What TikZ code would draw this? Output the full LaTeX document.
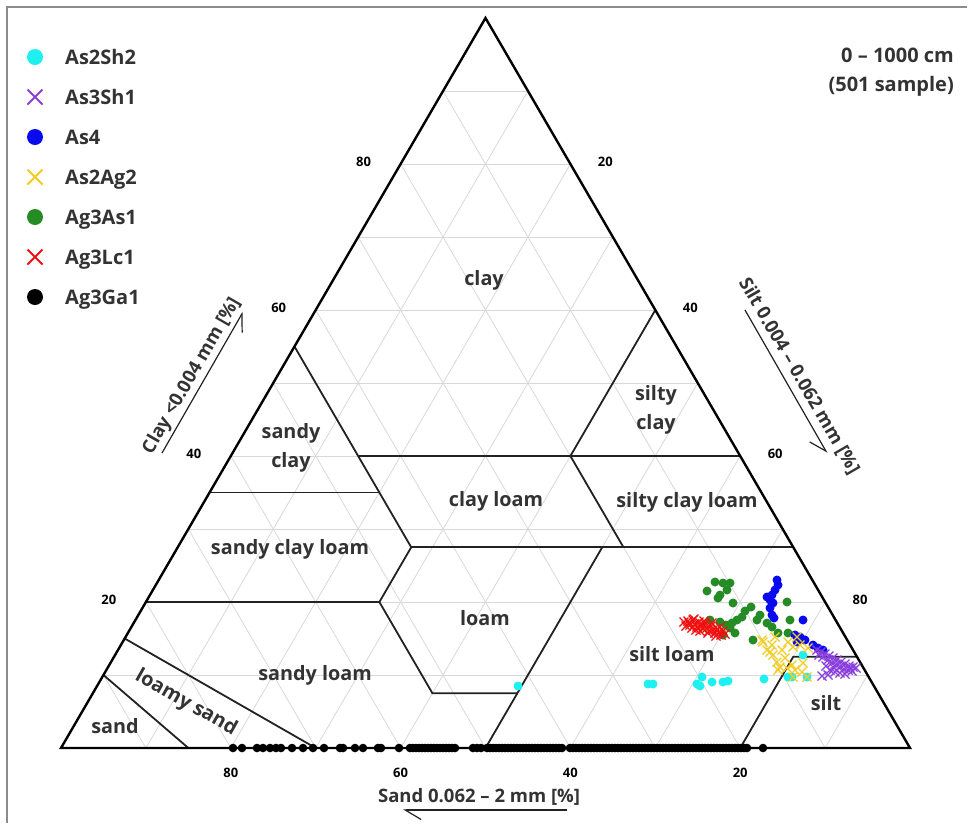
\documentclass[tikz,border=0pt]{standalone}
\usepackage{fontspec}
\setmainfont{Open Sans}
\usepackage{xcolor}
\usepackage{tikz}
\usetikzlibrary{arrows.meta}
\definecolor{ink}{HTML}{333333}
\definecolor{edge}{HTML}{222222}
\definecolor{gridgray}{HTML}{D8D8D8}
\definecolor{framegray}{HTML}{8C8C8C}
\definecolor{cyanpt}{HTML}{1EF0F0}
\definecolor{purplept}{HTML}{8A3FDC}
\definecolor{bluept}{HTML}{0A0AEE}
\definecolor{goldpt}{HTML}{F2CC1E}
\definecolor{greenpt}{HTML}{258B25}
\definecolor{redpt}{HTML}{F01010}
\tikzset{
  region/.style={font=\fontsize{19.8}{29}\selectfont\bfseries, text=ink, align=center, inner sep=0pt},
  tick/.style={font=\fontsize{13}{15}\selectfont\bfseries, text=black, inner sep=0pt},
  axistitle/.style={font=\fontsize{18.5}{29}\selectfont\bfseries, text=ink, inner sep=0pt},
  depthtext/.style={font=\fontsize{20}{29}\selectfont\bfseries, text=ink, inner sep=0pt},
  legendtext/.style={font=\fontsize{20}{23}\selectfont\bfseries, text=ink, anchor=base west, inner sep=0pt},
  gridline/.style={draw=gridgray, line width=0.8pt},
  boundary/.style={draw=edge, line width=1.8pt, line join=miter},
  outline/.style={draw=black, line width=2.4pt, line join=miter},
  frame/.style={draw=framegray, line width=1.2pt},
  axisarrow/.style={draw=edge, line width=1.2pt},
  datacross/.style={line width=1.3pt},
  legendcross/.style={line width=1.8pt}
}
\newcommand{\xmark}[4]{\draw[#1] (#2,#3) +(-#4,-#4) -- +(#4,#4) +(-#4,#4) -- +(#4,-#4);}

\begin{document}
\begin{tikzpicture}[x=1pt, y=-1pt]
  \useasboundingbox (0,0) rectangle (974,823);
  \draw[frame] (967,7) -- (7,7) -- (7,823);

  % triangle: silt along x, clay along y (percent)
  \begin{scope}[shift={(61,748)}, x={(8.49pt,0pt)}, y={(4.245pt,7.3pt)}]
    \foreach \k in {10,20,...,90} {
      \draw[gridline] (0,\k) -- ({100-\k},\k);
      \draw[gridline] (\k,0) -- (\k,{100-\k});
      \draw[gridline] ({100-\k},0) -- (0,{100-\k});
    }
    \draw[boundary] (15,0) -- (0,10);
    \draw[boundary] (30,0) -- (0,15);
    \draw[boundary] (0,20) -- (27.5,20) -- (40,7.5) -- (50,7.5);
    \draw[boundary] (50,0) -- (50,27.5);
    \draw[boundary] (27.5,20) -- (27.5,27.5) -- (0,55);
    \draw[boundary] (0,35) -- (20,35);
    \draw[boundary] (27.5,27.5) -- (72.5,27.5);
    \draw[boundary] (15,40) -- (60,40);
    \draw[boundary] (40,40) -- (52.5,27.5);
    \draw[boundary] (40,40) -- (40,60);
    \draw[boundary] (80,0) -- (80,12.5) -- (87.5,12.5);
    \draw[outline] (0,0) -- (100,0) -- (0,100) -- cycle;
    \foreach \k in {20,40,60,80} {
      \node[tick, xshift=-37pt, yshift=2pt] (claytick\k) at (0,\k) {\k};
      \node[tick, xshift=35pt, yshift=2pt] (silttick\k) at (\k,{100-\k}) {\k};
      \node[tick, yshift=-25pt] (sandtick\k) at ({100-\k},0) {\k};
    }
  \end{scope}

  % texture classes
  \node[region] (clay) at (484,280) {clay};
  \node[region] (siltyclay) at (656,410) {silty\\clay};
  \node[region] (sandyclay) at (291,448) {sandy\\clay};
  \node[region] (clayloam) at (496,501) {clay loam};
  \node[region] (siltyclayloam) at (687,502) {silty clay loam};
  \node[region] (sandyclayloam) at (290,549) {sandy clay loam};
  \node[region] (loam) at (485,618) {loam};
  \node[region] (sandyloam) at (315,675) {sandy loam};
  \node[region] (siltloam) at (672,654) {silt loam};
  \node[region] (silt) at (826,703) {silt};
  \node[region, rotate=-29.4] (loamysand) at (186,703) {loamy sand};
  \node[region] (sand) at (115,726) {sand};

  % axis titles
  \node[axistitle] (sandtitle) at (479,797) {Sand 0.062 – 2 mm [\%]};
  \node[axistitle, rotate=60] (claytitle) at (192,376) {Clay <0.004 mm [\%]};
  \node[axistitle, rotate=-60] (silttitle) at (799,376) {Silt 0.004 – 0.062 mm [\%]};
  \coordinate (sandR) at (567,810);
  \coordinate (sandL) at (403,810);
  \coordinate (clayB) at (162,453);
  \coordinate (clayT) at (243,312);
  \coordinate (siltT) at (745,310);
  \coordinate (siltB) at (827,453);
  \draw[axisarrow, -{Straight Barb[left, length=16pt, width=19pt]}] (sandR) -- (sandL);
  \draw[axisarrow, -{Straight Barb[right, length=16pt, width=19pt]}] (clayB) -- (clayT);
  \draw[axisarrow, -{Straight Barb[right, length=16pt, width=19pt]}] (siltT) -- (siltB);

  \node[depthtext, align=right, anchor=east] (depth) at (954,72) {0 – 1000 cm\\(501 sample)};

  % samples
  \foreach \x in {233,242,257,263,270,276,281,292,303,313,324,340,343,355,363,378,381,399,473,477,481,763}
    \fill[black] (\x,748) circle (4.3pt);
  \foreach \x in {410,413,...,455}
    \fill[black] (\x,748) circle (4.3pt);
  \foreach \x in {487,490,...,563}
    \fill[black] (\x,748) circle (4.3pt);
  \foreach \x in {570,573,...,747}
    \fill[black] (\x,748) circle (4.3pt);
  \foreach \x/\y in {518/686,648/684,653/684,697/684,702/677,700/686,712/682,723/682,728/681,764/679,788/677,792/677,807/677,803/655}
    \fill[cyanpt] (\x,\y) circle (4.5pt);
  \foreach \x/\y in {707/591,715/582,723/583,730/583,727/590,720/595,718/598,733/603,751/607,742/617,737/620,732/623,730/628,735/633,723/635,720/622,710/620,757/620,760/615,767/623,772/627,787/602,790/620,788/633,778/633,753/640,804/640,726/625,745/611}
    \fill[greenpt] (\x,\y) circle (4.5pt);
  \foreach \x/\y in {684/622,688/621,690/625,693/620,695/624,697/627,699/622,701/626,703/629,705/624,707/628,709/631,711/626,713/630,715/633,717/629,719/632,721/635,723/631,725/634,692/628,700/631,708/633,716/636,686/626,694/619,704/621,712/623,720/627,696/630,689/623,702/624}
    {\xmark{redpt, datacross}{\x}{\y}{4.5pt}}
  \foreach \x/\y in {777/580,778/585,775/590,772/595,767/597,770/600,773/603,770/608,772/615,774/618,803/620,795/635,800/637,805/640,797/642,813/645,818/648,823/650}
    \fill[bluept] (\x,\y) circle (4.5pt);
  \foreach \x/\y in {762/640,767/650,773/655,777/662,780/667,785/658,775/637,788/642,793/647,797/637,792/665,795/670,802/672,807/677,803/663,800/645,808/648,782/650,772/645,763/642,778/670,793/677,787/668,770/652}
    {\xmark{goldpt, datacross}{\x}{\y}{4.5pt}}
  \foreach \x/\y in {817/650,821/652,825/654,829/656,833/658,837/660,841/662,845/664,849/666,853/667,856/668,823/657,828/660,832/663,836/665,840/667,844/669,848/670,852/671,826/666,830/670,835/672,840/673,845/674,828/675,822/676,834/668,850/668,819/655}
    {\xmark{purplept, datacross}{\x}{\y}{4.5pt}}

  % legend
  \fill[cyanpt] (35,57) circle (8pt);
  \node[legendtext] (legAs2Sh2) at (65,64) {As2Sh2};
  \xmark{purplept, legendcross}{35}{97}{7.5pt}
  \node[legendtext] (legAs3Sh1) at (65,104) {As3Sh1};
  \fill[bluept] (35,137) circle (8pt);
  \node[legendtext] (legAs4) at (65,144) {As4};
  \xmark{goldpt, legendcross}{35}{177}{7.5pt}
  \node[legendtext] (legAs2Ag2) at (65,184) {As2Ag2};
  \fill[greenpt] (35,217) circle (8pt);
  \node[legendtext] (legAg3As1) at (65,224) {Ag3As1};
  \xmark{redpt, legendcross}{35}{257}{7.5pt}
  \node[legendtext] (legAg3Lc1) at (65,264) {Ag3Lc1};
  \fill[black] (35,297) circle (8pt);
  \node[legendtext] (legAg3Ga1) at (65,304) {Ag3Ga1};
\end{tikzpicture}
\end{document}
